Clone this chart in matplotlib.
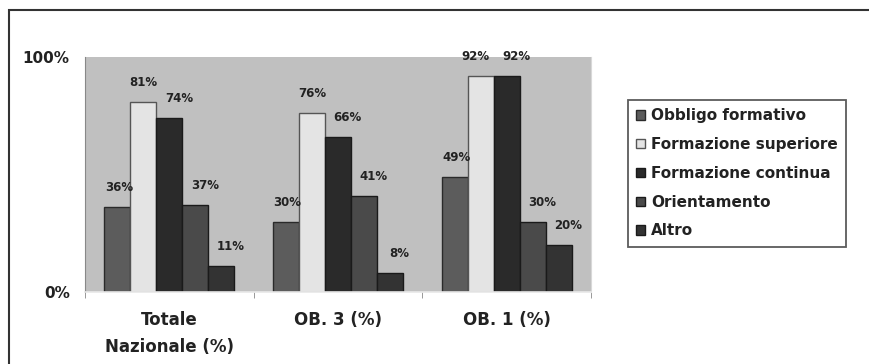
import numpy as np
import matplotlib
matplotlib.use("Agg")
import matplotlib.pyplot as plt
from matplotlib.patches import Rectangle

# data
categories = ["Totale\nNazionale (%)", "OB. 3 (%)", "OB. 1 (%)"]
series_names = ["Obbligo formativo", "Formazione superiore", "Formazione continua",
                "Orientamento", "Altro"]
obbligo = [36, 30, 49]
superiore = [81, 76, 92]
continua = [74, 66, 92]
orientamento = [37, 41, 30]
altro = [11, 8, 20]
y_ticks = [0, 100]
y_tick_labels = ["0%", "100%"]

values = [obbligo, superiore, continua, orientamento, altro]
colors = ["#5c5c5c", "#e4e4e4", "#2a2a2a", "#4a4a4a", "#333333"]
edges = ["#2a2a2a", "#555555", "#1a1a1a", "#1a1a1a", "#1a1a1a"]
lab_dx = [1, 0, 7, 7, 7]  # label shift in points

plt.rcParams['font.family'] = ['DejaVu Sans']
plt.rcParams['font.weight'] = 'bold'

fig = plt.figure(figsize=(8.69, 3.64), dpi=100)
ax = fig.add_axes([85/869, 1-292/364, (591-85)/869, (292-57)/364])
ax.set_facecolor("#c0c0c0")

x = np.arange(len(categories))
w = 0.154
for i, (vals, name) in enumerate(zip(values, series_names)):
    pos = x + (i - 2) * w
    ax.bar(pos, vals, w, color=colors[i], edgecolor=edges[i], linewidth=1, label=name)
    for p, v in zip(pos, vals):
        dx = lab_dx[i]
        if i == 1 and v > 90:
            dx = -4
        ax.annotate(f"{v}%", (p, v), xytext=(dx, 14), textcoords="offset points",
                    ha="center", va="center", fontsize=8.5, fontweight="bold", color="#222222")

ax.set_xlim(-0.5, 2.5)
ax.set_ylim(0, 100)
ax.set_yticks(y_ticks)
ax.set_yticklabels(y_tick_labels, fontsize=11, fontweight="bold", color="#222222")
ax.tick_params(axis="y", length=0, pad=11)
ax.set_xticks(x)
ax.set_xticklabels(categories, fontsize=12, fontweight="bold", color="#222222", linespacing=1.6)
ax.set_xticks([-0.5, 0.5, 1.5, 2.5], minor=True)
ax.tick_params(axis="x", which="major", length=0, pad=14)
ax.tick_params(axis="x", which="minor", length=4, color="#888888", direction="out")

ax.spines["top"].set_visible(False)
ax.spines["right"].set_color("#d8d8d8")
ax.spines["left"].set_color("#888888")
ax.spines["bottom"].set_color("#e8e8e8")
ax.spines["bottom"].set_linewidth(1.2)

leg = ax.legend(loc="upper left", bbox_to_anchor=(628/869, 1-100/364),
                bbox_transform=fig.transFigure, fontsize=11, frameon=True,
                fancybox=False, handlelength=0.55, handleheight=0.55,
                handletextpad=0.4, labelspacing=0.9, borderpad=0.55,
                borderaxespad=0)
leg.get_frame().set_edgecolor("#333333")
leg.get_frame().set_linewidth(1.3)
for t in leg.get_texts():
    t.set_color("#222222")

# outer frame of the picture
fig.patches.append(Rectangle((9/869, -0.1), 2, 1.1 - 10/364, transform=fig.transFigure,
                             fill=False, edgecolor="#333333", linewidth=1.5))

fig.savefig("out.png", dpi=100)
